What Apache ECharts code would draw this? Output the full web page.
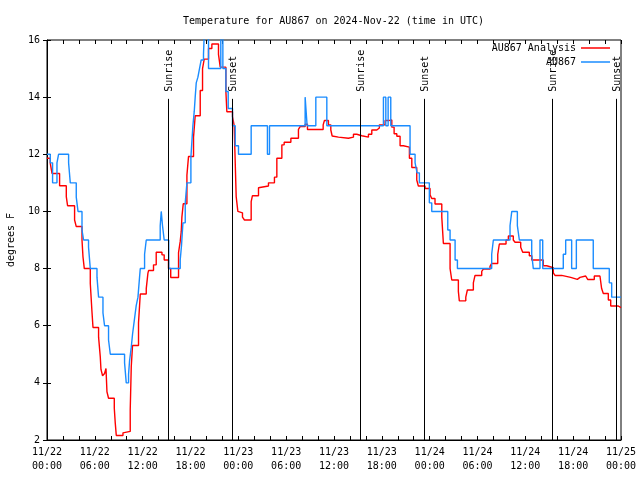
<!DOCTYPE html>
<html><head><meta charset="utf-8">
<script src="https://cdn.jsdelivr.net/npm/echarts/dist/echarts.min.js"></script>
<style>html,body{margin:0;padding:0;background:#fff}#c{width:640px;height:480px}</style>
</head><body><div id="c"></div>
<script>
// hours since 2024-11-22 00:00 UTC
const analysisTimes = [
 0, 0.41, 0.63, 1.58, 2.42, 2.58, 3.46, 3.67, 4.39, 4.51,
 4.68, 5.43, 5.64, 5.77, 6.47, 6.68, 6.77, 6.97, 7.22, 7.40,
 7.52, 7.72, 8.44, 8.56, 8.69, 9.53, 9.60, 10.44, 10.57, 10.73,
 11.48, 11.70, 12.45, 12.66, 12.74, 13.36, 13.70, 14.42, 14.70, 15.24,
 15.52, 16.50, 16.71, 16.84, 16.92, 17.09, 17.55, 17.75, 18.38, 18.59,
 19.22, 19.51, 19.72, 20.26, 20.68, 21.51, 21.73, 22.44, 22.56, 23.27,
 23.48, 23.73, 23.94, 24.02, 24.52, 24.77, 25.61, 25.77, 26.53, 26.74,
 27.78, 28.53, 28.83, 29.46, 29.75, 30.59, 31.54, 31.75, 32.38, 32.67,
 34.64, 34.80, 35.30, 35.60, 35.77, 35.93, 36.56, 37.81, 38.44, 38.86,
 39.49, 40.32, 40.74, 41.37, 41.69, 42.41, 42.82, 43.25, 43.54, 43.88,
 44.29, 44.70, 45.46, 45.76, 46.38, 46.58, 47.42, 48.05, 48.26, 48.67,
 49.52, 49.72, 50.56, 50.77, 51.60, 51.72, 52.53, 52.73, 53.48, 53.69,
 54.53, 54.73, 55.57, 55.78, 56.54, 56.74, 57.58, 57.87, 58.49, 58.71,
 59.42, 59.67, 60.50, 60.80, 62.25, 62.68, 63.51, 63.72, 64.56, 64.76,
 65.69, 66.52, 66.86, 67.57, 67.82, 68.65, 69.36, 69.57, 69.78, 70.41,
 70.71, 71.66, 72
];
const analysisTemps = [
 11.86, 11.68, 11.33, 10.9, 10.52, 10.2, 9.7, 9.47, 9.0, 8.42,
 8.0, 7.48, 6.49, 5.94, 5.6, 4.92, 4.47, 4.25, 4.33, 4.5,
 3.69, 3.46, 3.11, 2.6, 2.16, 2.25, 2.30, 3.06, 4.57, 5.31,
 6.1, 7.11, 7.3, 7.84, 7.93, 8.13, 8.57, 8.48, 8.30, 8.0,
 7.69, 8.56, 8.95, 9.3, 9.8, 10.27, 11.27, 11.92, 12.6, 13.35,
 14.23, 15.0, 15.33, 15.7, 15.86, 15.5, 15.05, 14.2, 13.49, 13.32,
 13.0, 10.52, 10.0, 9.95, 9.8, 9.7, 10.34, 10.55, 10.83, 10.89,
 11.0, 11.2, 11.86, 12.33, 12.42, 12.56, 12.87, 12.97, 13.05, 12.87,
 13.03, 13.18, 13.03, 12.85, 12.64, 12.6, 12.56, 12.6, 12.7, 12.65,
 12.6, 12.7, 12.85, 12.92, 13.03, 13.18, 13.2, 12.95, 12.72, 12.63,
 12.3, 12.25, 11.86, 11.54, 11.1, 10.89, 10.8, 10.58, 10.45, 10.26,
 9.8, 8.88, 8.0, 7.6, 7.2, 6.87, 7.0, 7.25, 7.5, 7.76,
 7.9, 7.98, 8.08, 8.18, 8.5, 8.86, 9.0, 9.14, 9.0, 8.92,
 8.75, 8.57, 8.45, 8.3, 8.1, 8.03, 7.85, 7.76, 7.72, 7.69,
 7.62, 7.69, 7.74, 7.67, 7.62, 7.74, 7.7, 7.3, 7.13, 6.9,
 6.69, 6.63, 6.63
];
const obsTimes = [
 0, 0.41, 0.70, 1.25, 1.45, 2.71, 2.92, 3.67, 3.89, 4.39,
 4.59, 5.21, 5.43, 6.27, 6.47, 7.02, 7.22, 7.72, 7.94, 9.73,
 9.94, 10.23, 10.35, 10.57, 10.73, 10.98, 11.19, 11.41, 11.61, 11.70,
 12.24, 12.45, 14.20, 14.33, 14.49, 14.70, 15.27, 16.71, 16.87, 17.05,
 17.34, 17.55, 18.05, 18.30, 18.47, 18.59, 18.72, 18.93, 19.13, 19.34,
 19.63, 19.76, 20.26, 21.80, 22.06, 22.44, 22.73, 23.27, 23.61, 24.02,
 25.61, 27.65, 27.91, 32.38, 32.63, 33.72, 35.10, 42.20, 42.50, 42.79,
 43.12, 45.54, 46.17, 46.42, 46.71, 47.96, 48.26, 50.27, 50.56, 51.19,
 51.48, 55.78, 55.99, 58.08, 58.30, 59.00, 59.25, 60.80, 61.00, 61.84,
 62.18, 64.76, 65.06, 65.81, 66.40, 68.52, 70.53, 70.83, 72
];
const obsTemps = [
 12, 11.7, 11.0, 11.7, 12.0, 11.7, 11.0, 10.5, 10.0, 9.35,
 9.0, 8.75, 8.0, 7.7, 7.0, 6.45, 6.0, 5.5, 5.0, 4.7,
 4.0, 4.3, 4.75, 5.25, 5.7, 6.25, 6.7, 7.0, 7.7, 8.0,
 8.5, 9.0, 9.5, 10.0, 9.5, 9.0, 8.0, 8.3, 8.8, 9.6,
 10.3, 11.0, 11.9, 13.0, 13.5, 14.0, 14.5, 14.7, 15.0, 15.3,
 15.5, 16.5, 15.0, 16.5, 15.0, 14.2, 13.6, 13.0, 12.3, 12.0,
 13.0, 12.0, 13.0, 14.0, 13.0, 14.0, 13.0, 14.0, 13.0, 14.0,
 13.0, 12.0, 11.7, 11.35, 11.0, 10.3, 10.0, 9.35, 9.0, 8.3,
 8.0, 8.5, 9.0, 9.5, 10.0, 9.5, 9.0, 8.5, 8.0, 9.0,
 8.0, 8.5, 9.0, 8.0, 9.0, 8.0, 7.5, 7.0, 7.0
];
const sunTimes = [15.22, 23.24, 39.30, 47.33, 63.38, 71.34];
const sunLabels = ['Sunrise', 'Sunset', 'Sunrise', 'Sunset', 'Sunrise', 'Sunset'];
const xTickLabels = ['11/22\n00:00','11/22\n06:00','11/22\n12:00','11/22\n18:00','11/23\n00:00','11/23\n06:00','11/23\n12:00','11/23\n18:00','11/24\n00:00','11/24\n06:00','11/24\n12:00','11/24\n18:00','11/25\n00:00'];
const yTicks = [2, 4, 6, 8, 10, 12, 14, 16];

const FONT = 'DejaVu Sans Mono';
const chart = echarts.init(document.getElementById('c'), null, {renderer: 'canvas'});
const pairs = (t, v) => t.map((x, i) => [x, v[i]]);
const tickStyle = {show: true, inside: true, length: 4, lineStyle: {color: '#000', width: 1}};
const sunTop = 13.94;

chart.setOption({
  animation: false,
  backgroundColor: '#fff',
  title: {text: 'Temperature for AU867 on 2024-Nov-22 (time in UTC)', left: 178, top: 11,
    textStyle: {fontFamily: FONT, fontSize: 10, fontWeight: 'normal', color: '#000'}},
  legend: {
    orient: 'vertical', right: 25, top: 37, align: 'right', icon: 'rect',
    itemWidth: 29, itemHeight: 1.5, itemGap: 2,
    textStyle: {fontFamily: FONT, fontSize: 10, color: '#000', lineHeight: 12},
    data: ['AU867 Analysis', 'AU867']
  },
  grid: {left: 47, right: 19, top: 40, bottom: 40, show: true, borderColor: '#000', borderWidth: 1,
    containLabel: false, outerBoundsMode: 'none'},
  xAxis: [{
    type: 'value', min: 0, max: 72, interval: 2, position: 'bottom',
    axisLine: {show: true, lineStyle: {color: '#000'}}, splitLine: {show: false},
    axisTick: tickStyle,
    axisLabel: {fontFamily: FONT, fontSize: 10, color: '#000', lineHeight: 14, margin: 5,
      formatter: v => (v % 6 === 0 ? xTickLabels[v / 6] : '')}
  }, {
    type: 'value', min: 0, max: 72, interval: 2, position: 'top',
    axisLine: {show: false}, splitLine: {show: false}, axisTick: tickStyle, axisLabel: {show: false}
  }],
  yAxis: [{
    type: 'value', min: yTicks[0], max: yTicks[yTicks.length - 1], interval: 2,
    name: 'degrees F', nameLocation: 'middle', nameGap: 31, nameRotate: 90,
    nameTextStyle: {fontFamily: FONT, fontSize: 10, color: '#000'},
    axisLine: {show: true, lineStyle: {color: '#000'}}, splitLine: {show: false},
    axisTick: tickStyle,
    axisLabel: {fontFamily: FONT, fontSize: 10, color: '#000', margin: 7}
  }, {
    type: 'value', min: yTicks[0], max: yTicks[yTicks.length - 1], interval: 2, position: 'right',
    axisLine: {show: false}, splitLine: {show: false}, axisTick: tickStyle, axisLabel: {show: false}
  }],
  series: [
    {
      name: 'AU867 Analysis', type: 'line', step: 'end', showSymbol: false, symbol: 'none',
      data: pairs(analysisTimes, analysisTemps), color: '#ff0000',
      lineStyle: {color: '#ff0000', width: 1.4}, z: 3
    },
    {
      name: 'AU867', type: 'line', step: 'end', showSymbol: false, symbol: 'none',
      data: pairs(obsTimes, obsTemps), color: '#1a8cff',
      lineStyle: {color: '#1a8cff', width: 1.4}, z: 4
    },
    {
      type: 'custom', z: 5, silent: true,
      data: sunTimes.map(t => [t, sunTop]),
      renderItem: function (params, api) {
        const t = api.value(0);
        const p0 = api.coord([t, yTicks[0]]);
        const p1 = api.coord([t, sunTop]);
        return {
          type: 'group',
          children: [
            {type: 'line', shape: {x1: Math.round(p0[0]) + 0.5, y1: p0[1], x2: Math.round(p0[0]) + 0.5, y2: p1[1]},
             style: {stroke: '#000', lineWidth: 1}},
            {type: 'text', x: Math.round(p0[0]) + 1, y: p1[1] - 7, rotation: Math.PI / 2,
             style: {text: sunLabels[params.dataIndex], fontFamily: FONT, fontSize: 10, fill: '#000',
                     textAlign: 'left', textVerticalAlign: 'middle'}}
          ]
        };
      }
    }
  ]
});
</script>
</body></html>
